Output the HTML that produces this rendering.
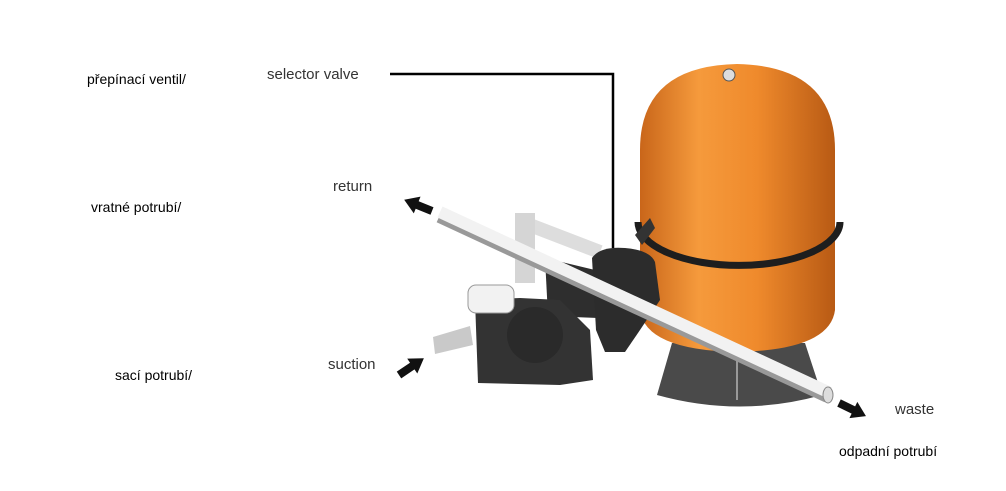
<!DOCTYPE html>
<html><head><meta charset="utf-8"><style>
body{margin:0;background:#fff;}
.w{position:relative;width:1006px;height:491px;overflow:hidden;font-family:"Liberation Sans",sans-serif;}
.t{position:absolute;font-size:14px;color:#000;white-space:nowrap;}
.l{position:absolute;font-size:15px;color:#333;white-space:nowrap;}
</style></head><body><div class="w">
<svg width="1006" height="491" style="position:absolute;left:0;top:0">
<defs>
<linearGradient id="or" x1="0" x2="1" y1="0" y2="0">
<stop offset="0" stop-color="#c9661a"/><stop offset="0.3" stop-color="#f59a3c"/><stop offset="0.6" stop-color="#ef8a2c"/><stop offset="1" stop-color="#b85a14"/></linearGradient>
</defs>
<polyline points="390,74 613,74 613,248" fill="none" stroke="#000" stroke-width="2.5"/>
<path d="M672,343 L805,343 L822,395 Q740,418 657,395 Z" fill="#4a4a4a"/>
<line x1="737" y1="360" x2="737" y2="400" stroke="#999" stroke-width="2"/>
<path d="M640,150 Q640,66 737,64 Q835,66 835,150 L835,310 Q830,350 737,352 Q645,350 640,310 Z" fill="url(#or)"/>
<circle cx="729" cy="75" r="6" fill="#ddd" stroke="#555"/>
<path d="M638,222 A100,43 0 0 0 840,222" fill="none" stroke="#1e1e1e" stroke-width="7"/>
<line x1="522" y1="222" x2="600" y2="252" stroke="#ddd" stroke-width="14"/>
<rect x="515" y="213" width="20" height="70" fill="#d5d5d5"/>
<path d="M545,258 L595,270 L598,318 L548,316 Z" fill="#2e2e2e"/>
<path d="M475,300 L520,298 L560,300 L590,330 L593,380 L560,385 L478,383 Z" fill="#333"/>
<circle cx="535" cy="335" r="28" fill="#2a2a2a"/>
<rect x="468" y="285" width="46" height="28" rx="8" fill="#f2f2f2" stroke="#999"/>
<path d="M433,337 L470,326 L473,345 L435,354 Z" fill="#c9c9c9"/>
<path d="M592,258 Q600,246 625,248 Q650,250 655,262 L660,300 L640,330 L625,352 L605,352 L596,330 Z" fill="#2c2c2c"/>
<path d="M635,235 L650,218 L655,228 L642,245 Z" fill="#333"/>
<line x1="440" y1="215" x2="828" y2="395" stroke="#999" stroke-width="16"/>
<line x1="440" y1="212" x2="828" y2="392" stroke="#f2f2f2" stroke-width="12"/>
<ellipse cx="828" cy="395" rx="5" ry="8" fill="#ddd" stroke="#888"/>
<g fill="#111">
<polygon points="0,-4 16,-4 16,-9 30,0 16,9 16,4 0,4" transform="translate(432,211) rotate(202)"/>
<polygon points="0,-4 16,-4 16,-9 30,0 16,9 16,4 0,4" transform="translate(399,375) rotate(-34)"/>
<polygon points="0,-4 16,-4 16,-9 30,0 16,9 16,4 0,4" transform="translate(839,403) rotate(26)"/>
</g>
</svg>
<div class="t" style="left:87px;top:71px">přepínací ventil/</div>
<div class="l" style="left:267px;top:66px">selector valve</div>
<div class="l" style="left:333px;top:178px">return</div>
<div class="t" style="left:91px;top:199px">vratné potrubí/</div>
<div class="l" style="left:328px;top:356px">suction</div>
<div class="t" style="left:115px;top:367px">sací potrubí/</div>
<div class="l" style="left:895px;top:401px">waste</div>
<div class="t" style="left:839px;top:443px">odpadní potrubí</div>
</div></body></html>
